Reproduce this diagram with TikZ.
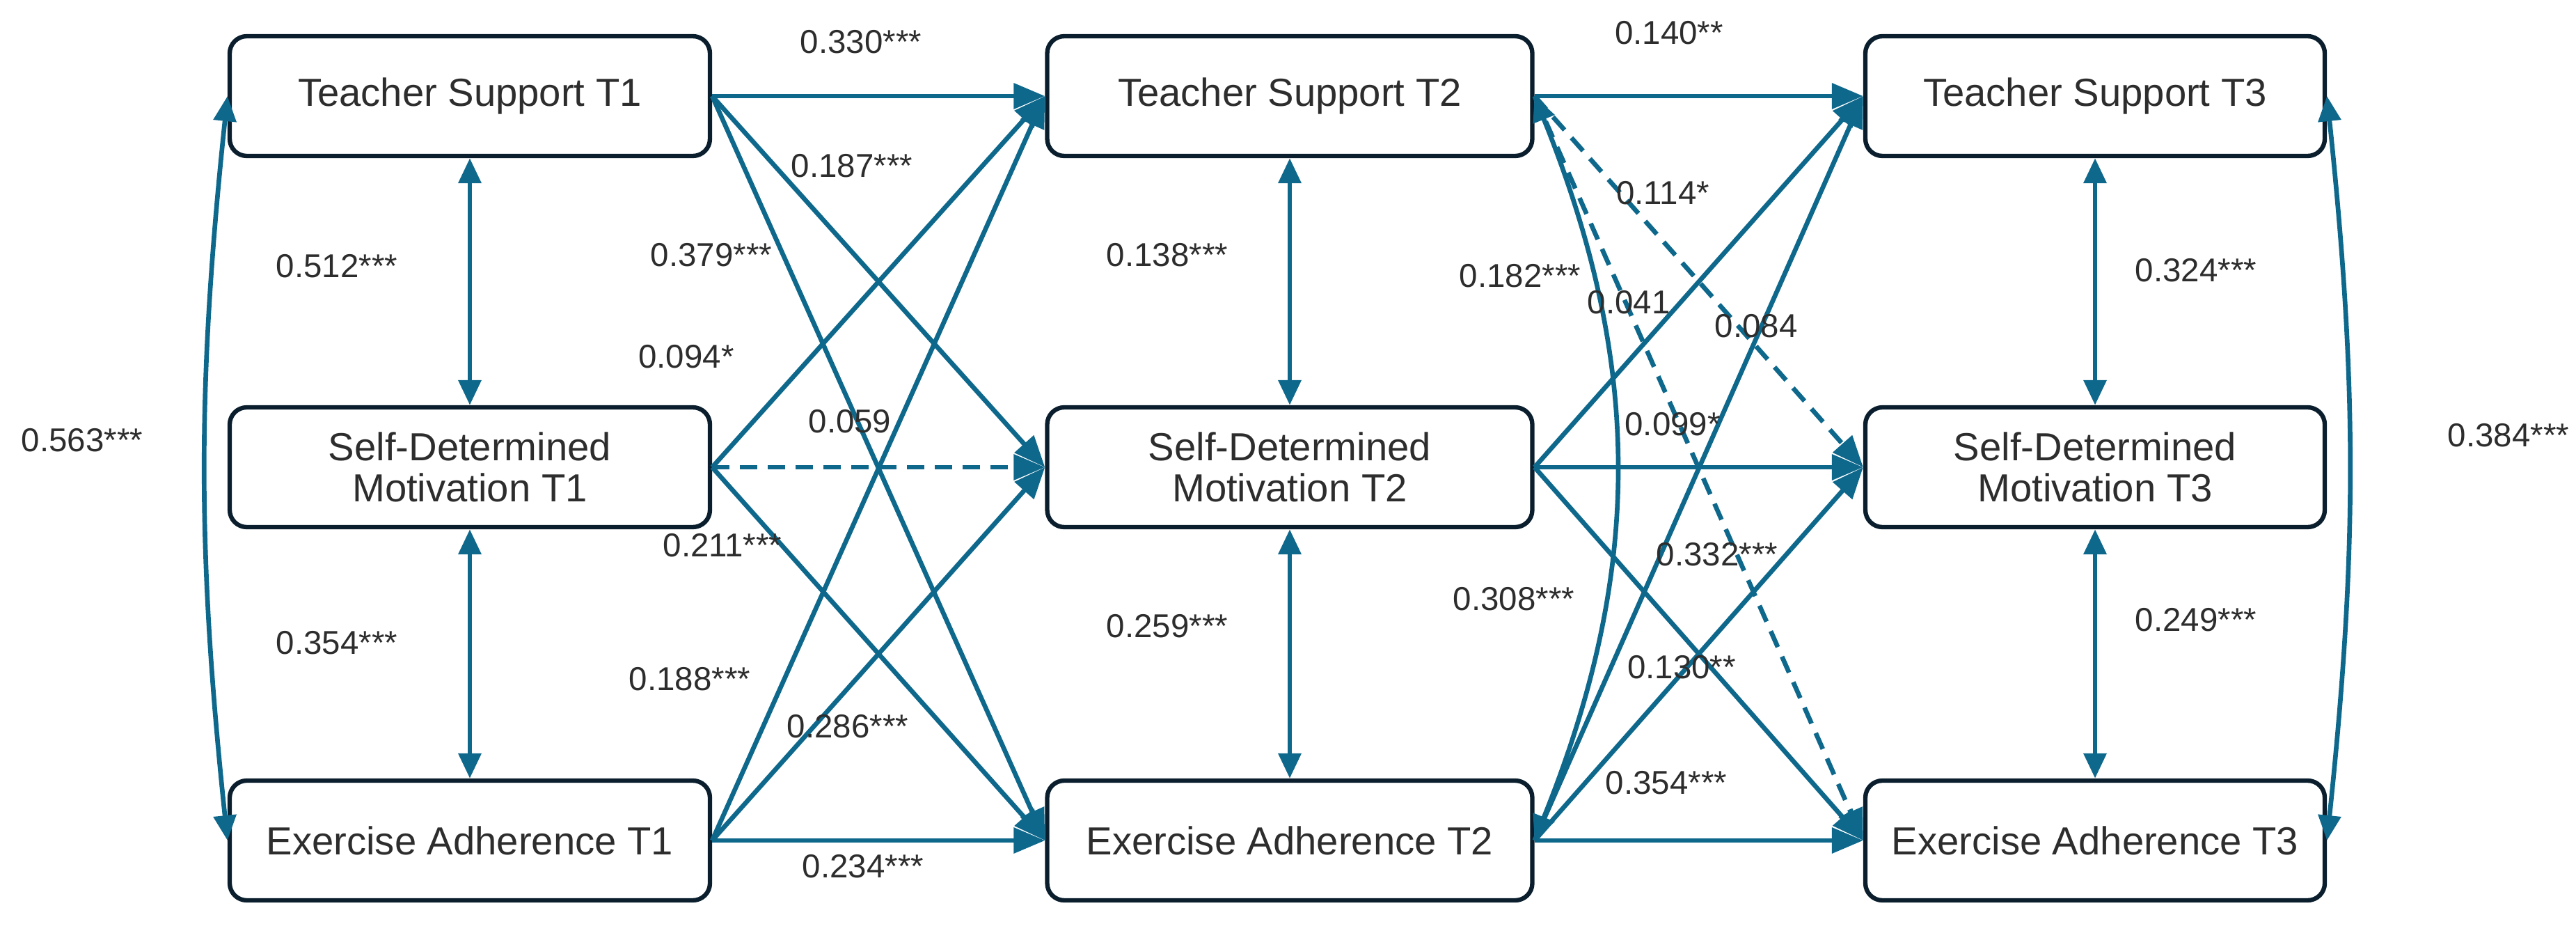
\documentclass[tikz,border=0pt]{standalone}
\usepackage{fontspec}
\setmainfont{Liberation Sans}
\usetikzlibrary{arrows.meta}
\definecolor{teal}{RGB}{14,104,140}
\definecolor{boxline}{RGB}{10,30,45}
\definecolor{txt}{RGB}{45,45,45}
\tikzset{
  var/.style={draw=boxline, line width=1.8pt, rounded corners=7pt, minimum height=1.72cm, text=txt, font=\fontsize{16}{18}\selectfont, align=center, inner sep=0pt},
  path/.style={draw=teal, line width=1.9pt, -{Triangle[length=0.45cm,width=0.36cm]}},
  cov/.style={draw=teal, line width=1.9pt, {Triangle[length=0.36cm,width=0.32cm]}-{Triangle[length=0.36cm,width=0.32cm]}},
  dsh/.style={dashed, dash pattern=on 0.25cm off 0.15cm},
  lab/.style={text=txt, font=\fontsize{13.5}{15}\selectfont, inner sep=1pt}
}
\begin{document}
\begin{tikzpicture}
\useasboundingbox (0,0) rectangle (37.01,13.36);
% columns
\node[var, minimum width=6.9cm]  (TS1) at (6.75,11.98) {Teacher Support T1};
\node[var, minimum width=6.9cm]  (SD1) at (6.75,6.65) {Self-Determined\\[-1pt]Motivation T1};
\node[var, minimum width=6.9cm]  (EA1) at (6.75,1.29) {Exercise Adherence T1};
\node[var, minimum width=6.97cm] (TS2) at (18.53,11.98) {Teacher Support T2};
\node[var, minimum width=6.97cm] (SD2) at (18.53,6.65) {Self-Determined\\[-1pt]Motivation T2};
\node[var, minimum width=6.97cm] (EA2) at (18.53,1.29) {Exercise Adherence T2};
\node[var, minimum width=6.6cm]  (TS3) at (30.1,11.98) {Teacher Support T3};
\node[var, minimum width=6.6cm]  (SD3) at (30.1,6.65) {Self-Determined\\[-1pt]Motivation T3};
\node[var, minimum width=6.6cm]  (EA3) at (30.1,1.29) {Exercise Adherence T3};

% T1 -> T2
\draw[path] (TS1.east) -- (TS2.west);
\draw[path] (TS1.east) -- (SD2.west);
\draw[path] (TS1.east) -- (EA2.west);
\draw[path] (SD1.east) -- (TS2.west);
\draw[path,dsh] (SD1.east) -- (SD2.west);
\draw[path] (SD1.east) -- (EA2.west);
\draw[path] (EA1.east) -- (TS2.west);
\draw[path] (EA1.east) -- (SD2.west);
\draw[path] (EA1.east) -- (EA2.west);
% T2 -> T3
\draw[path] (TS2.east) -- (TS3.west);
\draw[path,dsh] (TS2.east) -- (SD3.west);
\draw[path,dsh] (TS2.east) -- (EA3.west);
\draw[path] (SD2.east) -- (TS3.west);
\draw[path] (SD2.east) -- (SD3.west);
\draw[path] (SD2.east) -- (EA3.west);
\draw[path] (EA2.east) -- (TS3.west);
\draw[path] (EA2.east) -- (SD3.west);
\draw[path] (EA2.east) -- (EA3.west);

% covariances
\draw[cov] (TS1.south) -- (SD1.north);
\draw[cov] (SD1.south) -- (EA1.north);
\draw[cov] (TS2.south) -- (SD2.north);
\draw[cov] (SD2.south) -- (EA2.north);
\draw[cov] (TS3.south) -- (SD3.north);
\draw[cov] (SD3.south) -- (EA3.north);
\draw[cov] (TS1.west) to[bend right=6] (EA1.west);
\draw[cov] (TS3.east) to[bend left=6] (EA3.east);
\draw[cov] (TS2.east) to[bend left=22] (EA2.east);

% labels
\node[lab] (l1) at (12.37,12.76) {0.330***};
\node[lab] (l2) at (12.24,10.98) {0.187***};
\node[lab] (l3) at (10.22,9.70) {0.379***};
\node[lab] (l4) at (9.86,8.24) {0.094*};
\node[lab] (l5) at (12.21,7.31) {0.059};
\node[lab] (l6) at (10.38,5.53) {0.211***};
\node[lab] (l7) at (9.91,3.61) {0.188***};
\node[lab] (l8) at (12.18,2.93) {0.286***};
\node[lab] (l9) at (12.40,0.92) {0.234***};

\node[lab] (m1) at (23.98,12.89) {0.140**};
\node[lab] (m2) at (23.89,10.59) {0.114*};
\node[lab] (m3) at (23.40,9.02) {0.041};
\node[lab] (m4) at (21.84,9.40) {0.182***};
\node[lab] (m5) at (24.03,7.27) {0.099*};
\node[lab] (m6) at (24.67,5.40) {0.332***};
\node[lab] (m7) at (25.23,8.68) {0.084};
\node[lab] (m8) at (24.16,3.78) {0.130**};
\node[lab] (m9) at (23.94,2.12) {0.354***};
\node[lab] (m10) at (21.75,4.76) {0.308***};

\node[lab] (c1) at (4.84,9.54) {0.512***};
\node[lab] (c2) at (4.84,4.13) {0.354***};
\node[lab] (c3) at (16.77,9.70) {0.138***};
\node[lab] (c4) at (16.77,4.37) {0.259***};
\node[lab] (c5) at (31.55,9.48) {0.324***};
\node[lab] (c6) at (31.55,4.46) {0.249***};
\node[lab] (c7) at (1.18,7.04) {0.563***};
\node[lab] (c8) at (36.04,7.11) {0.384***};
\end{tikzpicture}
\end{document}
